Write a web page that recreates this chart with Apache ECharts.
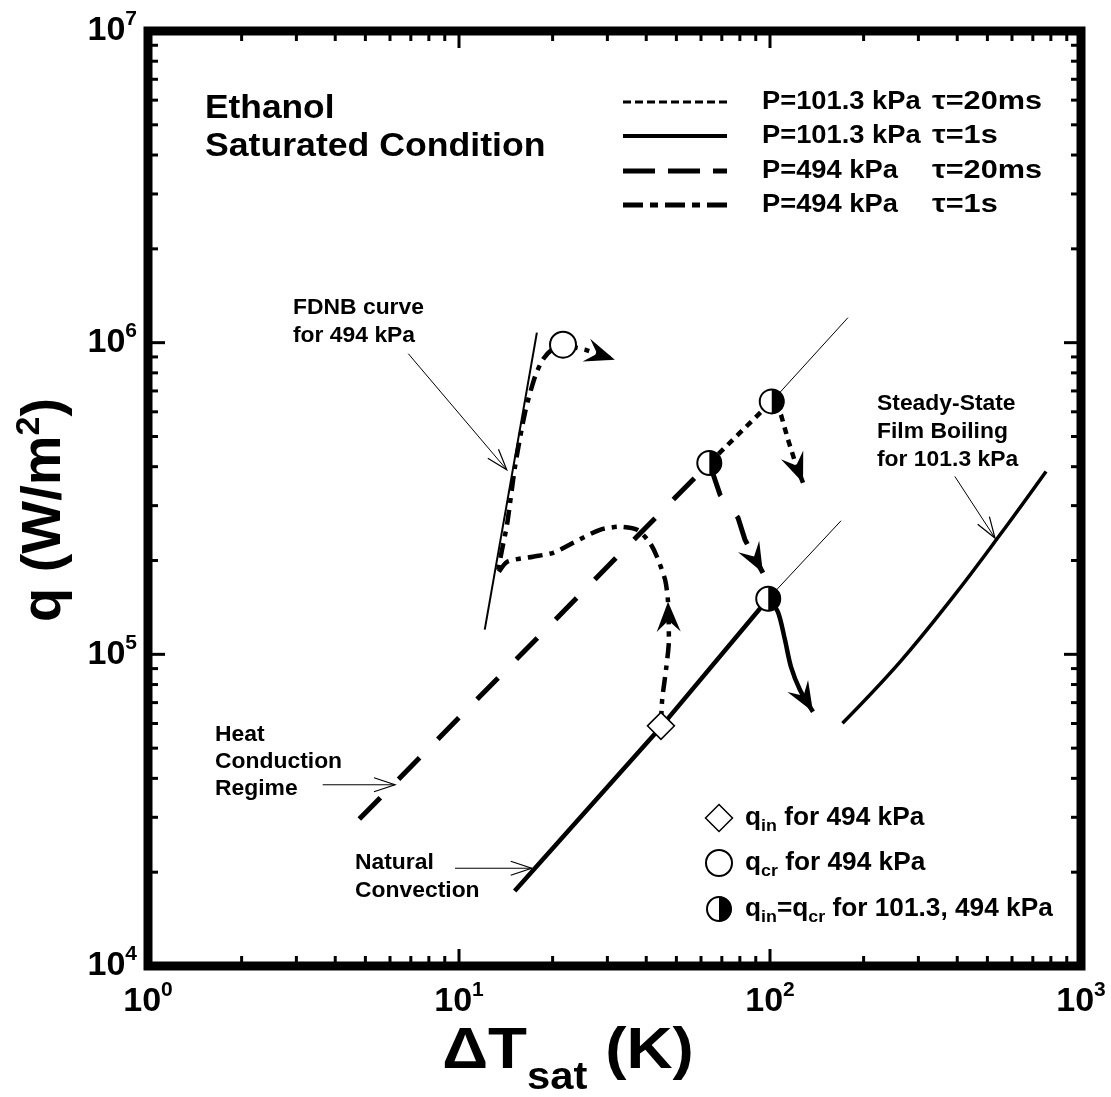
<!DOCTYPE html>
<html><head><meta charset="utf-8">
<script src="https://cdn.jsdelivr.net/npm/echarts@6/dist/echarts.min.js"></script>
<style>html,body{margin:0;padding:0;background:#fff}#c{width:1111px;height:1097px}</style>
</head><body><div id="c"></div>
<script>
// ---------------- data ----------------
const xRange = [1, 1000];
const yRange = [1e4, 1e7];
const xMajor = [1, 10, 100, 1000];
const yMajor = [1e4, 1e5, 1e6, 1e7];
const minorMult = [2, 3, 4, 5, 6, 7, 8, 9];

// FDNB curve for 494 kPa
const fdnb494 = [[12.1, 1.2e5], [17.8, 1.077e6]];
// Steady-state film boiling for 101.3 kPa
const filmBoiling1013 = [[171, 60100], [262, 94600], [388, 152900], [549, 241900], [772, 386300]];
// P=101.3 kPa tau=1s : rise (natural convection) then drop after q_cr
const p1013_1s_rise = [[15.1, 17400], [44.6, 58500], [98.7, 150800]];
const p1013_1s_drop = [[98.7, 150800], [106, 136900], [111.7, 111300], [116.8, 91200], [124.9, 76900], [137.5, 65400]];
// P=101.3 kPa tau=20ms
const p1013_20ms = [[63.8, 411000], [101.3, 648000], [108.5, 587000], [114.3, 488000], [121.2, 405800], [127.7, 355300]];
// P=494 kPa tau=20ms
const p494_20ms = [[4.78, 29600], [63.8, 411000], [69.1, 325200], [78.9, 274300], [83.1, 233200], [94.9, 182600]];
// P=494 kPa tau=1s
const p494_1s = [[44.6, 58950], [45.0, 71400], [46.3, 89200], [47.3, 111300], [47.0, 147400], [46.0, 173400], [43.3, 205600],
  [41.1, 228000], [37.4, 250900], [32.9, 256700], [28.4, 250900], [23.3, 228000], [20.1, 211800], [17.3, 205600],
  [14.3, 198200], [13.3, 181000], [13.75, 216500], [14.27, 260500], [15.14, 399900], [16.3, 596200], [17.55, 777900],
  [18.6, 882000], [19.9, 949500], [21.6, 985400]];
const p494_1s_after = [[21.6, 985400], [25.4, 949500], [31.7, 882000]];
// thin extension lines from the q_in=q_cr points
const guideLow = [[98.7, 150800], [169.2, 268300]];
const guideHigh = [[101.3, 648000], [178.1, 1203000]];
// markers
const qin494 = [[44.6, 58950]];
const qcr494 = [[21.6, 985400]];
const qinEqQcr = [[98.7, 150800], [63.8, 411000], [101.3, 648000]];
// annotation arrows [from, to]
const annotArrows = [
  [[6.87, 921700], [14.24, 391100]],
  [[393, 372200], [529, 236100]],
  [[3.645, 38150], [6.226, 38150]],
  [[9.708, 20590], [17.13, 20590]]
];
// legend labels
const legendLines = [
  ['P=101.3 kPa', 'τ=20ms'],
  ['P=101.3 kPa', 'τ=1s'],
  ['P=494 kPa', 'τ=20ms'],
  ['P=494 kPa', 'τ=1s']
];

// ---------------- chart ----------------
const FF = '"Liberation Sans", Arial, sans-serif';
const chart = echarts.init(document.getElementById('c'), null, {renderer: 'canvas'});

const arrowHeadData = [
  [p1013_1s_drop[4], p1013_1s_drop[5]],
  [p1013_20ms[4], p1013_20ms[5]],
  [p494_20ms[4], p494_20ms[5]],
  [p494_1s[3], p494_1s[4]],
  [p494_1s_after[1], p494_1s_after[2]]
].map(s => [s[0][0], s[0][1], s[1][0], s[1][1]]);
const annotData = annotArrows.map(s => [s[0][0], s[0][1], s[1][0], s[1][1]]);

// ticks : [x, y, side(0=x,1=y), major]
const tickData = [];
for (let k = 0; k < 3; k++) {
  minorMult.forEach(m => tickData.push([m * Math.pow(10, k), yRange[0], 0, 0]));
  minorMult.forEach(m => tickData.push([xRange[0], m * Math.pow(10, k + 4), 1, 0]));
}
xMajor.slice(1, -1).forEach(v => tickData.push([v, yRange[0], 0, 1]));
yMajor.slice(1, -1).forEach(v => tickData.push([xRange[0], v, 1, 1]));

function headPts(p0, p1, L, W, notch) {
  const dx = p1[0] - p0[0], dy = p1[1] - p0[1];
  const len = Math.hypot(dx, dy) || 1;
  const ux = dx / len, uy = dy / len, nx = -uy, ny = ux;
  return [
    [p1[0] - L * ux + W * nx, p1[1] - L * uy + W * ny],
    [p1[0], p1[1]],
    [p1[0] - L * ux - W * nx, p1[1] - L * uy - W * ny],
    [p1[0] - notch * L * ux, p1[1] - notch * L * uy]
  ];
}

function lineSeries(data, width, dash, extra) {
  return Object.assign({
    type: 'line', data: data, showSymbol: false, symbol: 'none', z: 3,
    lineStyle: {color: '#000', width: width, type: dash || 'solid', cap: 'butt', join: 'round'},
    silent: true, clip: false
  }, extra || {});
}

const supRich = {
  b: {fontSize: 34, fontWeight: 'bold', fontFamily: FF, color: '#000', lineHeight: 44},
  s: {fontSize: 21, fontWeight: 'bold', fontFamily: FF, color: '#000', lineHeight: 22, verticalAlign: 'top'}
};
const expLabel = v => '{b|10}{s|' + Math.round(Math.log10(v)) + '}';

const option = {
  animation: false,
  backgroundColor: '#fff',
  grid: {left: 148, right: 30, top: 31, bottom: 131, show: true, borderWidth: 9, borderColor: '#000', backgroundColor: 'transparent', z: 10},
  xAxis: {
    type: 'log', logBase: 10, min: xRange[0], max: xRange[1],
    axisLine: {show: false}, axisTick: {show: false}, splitLine: {show: false},
    axisLabel: {formatter: expLabel, rich: supRich, margin: 14, showMinLabel: true, showMaxLabel: true}
  },
  yAxis: {
    type: 'log', logBase: 10, min: yRange[0], max: yRange[1],
    axisLine: {show: false}, axisTick: {show: false}, splitLine: {show: false},
    axisLabel: {formatter: expLabel, rich: supRich, margin: 11, showMinLabel: true, showMaxLabel: true}
  },
  series: [
    lineSeries(fdnb494, 2),
    lineSeries(filmBoiling1013, 3.5, 'solid', {smooth: 0.4}),
    lineSeries(guideLow, 1),
    lineSeries(guideHigh, 1),
    lineSeries(p1013_1s_rise, 4.5),
    lineSeries(p1013_1s_drop, 4.5, 'solid', {smooth: 0.3}),
    lineSeries(p1013_20ms, 4.5, [7, 6]),
    lineSeries(p494_20ms, 5, [30, 26]),
    lineSeries(p494_1s, 4.5, [15, 7, 5, 7], {smooth: 0.25}),
    lineSeries(p494_1s_after, 4.5, [15, 7, 5, 7]),
    { // filled barbed arrow heads
      type: 'custom', data: arrowHeadData, encode: {x: [0, 2], y: [1, 3]}, z: 4, silent: true, clip: false,
      renderItem: function (params, api) {
        const p0 = api.coord([api.value(0), api.value(1)]);
        const p1 = api.coord([api.value(2), api.value(3)]);
        return {type: 'polygon', shape: {points: headPts(p0, p1, 30, 12, 0.62)}, style: {fill: '#000'}};
      }
    },
    { // thin annotation arrows
      type: 'custom', data: annotData, encode: {x: [0, 2], y: [1, 3]}, z: 4, silent: true, clip: false,
      renderItem: function (params, api) {
        const p0 = api.coord([api.value(0), api.value(1)]);
        const p1 = api.coord([api.value(2), api.value(3)]);
        const h = headPts(p0, p1, 21, 7, 0);
        return {type: 'group', children: [
          {type: 'line', shape: {x1: p0[0], y1: p0[1], x2: p1[0], y2: p1[1]}, style: {stroke: '#000', lineWidth: 1}},
          {type: 'polyline', shape: {points: [h[0], h[1], h[2]]}, style: {stroke: '#000', lineWidth: 1.2, fill: null}}
        ]};
      }
    },
    {type: 'scatter', data: qin494, symbol: 'diamond', symbolSize: 27, z: 6, silent: true,
      itemStyle: {color: '#fff', borderColor: '#000', borderWidth: 1.5, opacity: 1}},
    {type: 'scatter', data: qcr494, symbol: 'circle', symbolSize: 26, z: 6, silent: true,
      itemStyle: {color: '#fff', borderColor: '#000', borderWidth: 2, opacity: 1}},
    { // half filled circles
      type: 'custom', data: qinEqQcr, encode: {x: 0, y: 1}, z: 6, silent: true, clip: false,
      renderItem: function (params, api) {
        const p = api.coord([api.value(0), api.value(1)]);
        return {type: 'group', children: [
          {type: 'circle', shape: {cx: p[0], cy: p[1], r: 12}, style: {fill: '#fff', stroke: '#000', lineWidth: 2}},
          {type: 'sector', shape: {cx: p[0], cy: p[1], r0: 0, r: 12.5, startAngle: -Math.PI / 2, endAngle: Math.PI / 2, clockwise: true}, style: {fill: '#000'}}
        ]};
      }
    },
    { // axis ticks on all four sides
      type: 'custom', data: tickData, encode: {x: 0, y: 1}, z: 11, silent: true, clip: false,
      renderItem: function (params, api) {
        const side = api.value(2), len = api.value(3) ? 17 : 10;
        const st = {stroke: '#000', lineWidth: 3};
        if (side === 0) {
          const v = api.value(0);
          const a = api.coord([v, yRange[0]]), b = api.coord([v, yRange[1]]);
          return {type: 'group', children: [
            {type: 'line', shape: {x1: a[0], y1: a[1], x2: a[0], y2: a[1] - len}, style: st},
            {type: 'line', shape: {x1: b[0], y1: b[1], x2: b[0], y2: b[1] + len}, style: st}
          ]};
        } else {
          const v = api.value(1);
          const a = api.coord([xRange[0], v]), b = api.coord([xRange[1], v]);
          return {type: 'group', children: [
            {type: 'line', shape: {x1: a[0], y1: a[1], x2: a[0] + len, y2: a[1]}, style: st},
            {type: 'line', shape: {x1: b[0], y1: b[1], x2: b[0] - len, y2: b[1]}, style: st}
          ]};
        }
      }
    }
  ],
  graphic: []
};

// ---------- text & legends (graphic) ----------
const g = [];
function txt(x, y, text, size, sx) {
  g.push({type: 'text', x: x, y: y, z: 20, silent: true, scaleX: sx || 1,
    style: {text: text, font: 'bold ' + size + 'px ' + FF, fill: '#000', align: 'left', verticalAlign: 'middle'}});
}
txt(205, 109, 'Ethanol', 33, 1.07);
txt(205, 147, 'Saturated Condition', 33, 1.08);
txt(293, 308, 'FDNB curve', 22, 1.04);
txt(293, 336, 'for 494 kPa', 22, 1.04);
txt(215, 735, 'Heat', 22, 1.04);
txt(215, 762, 'Conduction', 22, 1.04);
txt(215, 789, 'Regime', 22, 1.04);
txt(355, 863, 'Natural', 22, 1.04);
txt(355, 891, 'Convection', 22, 1.04);
txt(877, 404, 'Steady-State', 22, 1.04);
txt(877, 432, 'Film Boiling', 22, 1.04);
txt(877, 460, 'for 101.3 kPa', 22, 1.04);

// line legend
const legendY = [102, 136, 171, 205];
const legendDash = [[[8, 4], 3], [null, 4], [[32, 13], 5], [[20, 7, 8, 7], 5]];
legendY.forEach((y, i) => {
  g.push({type: 'line', z: 20, silent: true, shape: {x1: 623, y1: y, x2: 727, y2: y},
    style: {stroke: '#000', lineWidth: legendDash[i][1], lineDash: legendDash[i][0] || null}});
  txt(762, y, legendLines[i][0], 26, 1.05);
  txt(932, y, legendLines[i][1], 26, 1.18);
});

// marker legend
const mkRich = {
  q: {fontSize: 25, fontWeight: 'bold', fontFamily: FF, lineHeight: 34, verticalAlign: 'middle'},
  sub: {fontSize: 17, fontWeight: 'bold', fontFamily: FF, lineHeight: 18, verticalAlign: 'bottom'}
};
g.push({type: 'polygon', z: 20, silent: true, shape: {points: [[719, 804.5], [732.5, 818], [719, 831.5], [705.5, 818]]}, style: {fill: '#fff', stroke: '#000', lineWidth: 1.5}});
g.push({type: 'circle', z: 20, silent: true, shape: {cx: 719, cy: 863, r: 13}, style: {fill: '#fff', stroke: '#000', lineWidth: 2}});
g.push({type: 'circle', z: 20, silent: true, shape: {cx: 719, cy: 909, r: 12}, style: {fill: '#fff', stroke: '#000', lineWidth: 2}});
g.push({type: 'sector', z: 21, silent: true, shape: {cx: 719, cy: 909, r0: 0, r: 12.5, startAngle: -Math.PI / 2, endAngle: Math.PI / 2}, style: {fill: '#000'}});
[[818, '{q|q}{sub|in}{q| for 494 kPa}'], [863, '{q|q}{sub|cr}{q| for 494 kPa}'], [909, '{q|q}{sub|in}{q|=q}{sub|cr}{q| for 101.3, 494 kPa}']]
  .forEach(r => g.push({type: 'text', x: 745, y: r[0], z: 20, silent: true, scaleX: 1.05,
    style: {text: r[1], rich: mkRich, fill: '#000', verticalAlign: 'middle'}}));

// axis titles
g.push({type: 'text', x: 45, y: 510, rotation: Math.PI / 2, z: 20, silent: true,
  style: {text: '{a|q (W/m}{s|2}{a|)}', align: 'center', verticalAlign: 'middle', fill: '#000',
    rich: {a: {fontSize: 56, fontWeight: 'bold', fontFamily: FF, lineHeight: 64},
           s: {fontSize: 34, fontWeight: 'bold', fontFamily: FF, lineHeight: 34, verticalAlign: 'top'}}}});
g.push({type: 'text', x: 568, y: 1052, z: 20, silent: true, scaleX: 1.1,
  style: {text: '{a|ΔT}{b|sat}{a| (K)}', align: 'center', verticalAlign: 'middle', fill: '#000',
    rich: {a: {fontSize: 58, fontWeight: 'bold', fontFamily: FF, lineHeight: 64},
           b: {fontSize: 38, fontWeight: 'bold', fontFamily: FF, lineHeight: 38, verticalAlign: 'bottom', padding: [0, 0, -14, 0]}}}});

option.graphic = g;
chart.setOption(option);
</script>
</body></html>
